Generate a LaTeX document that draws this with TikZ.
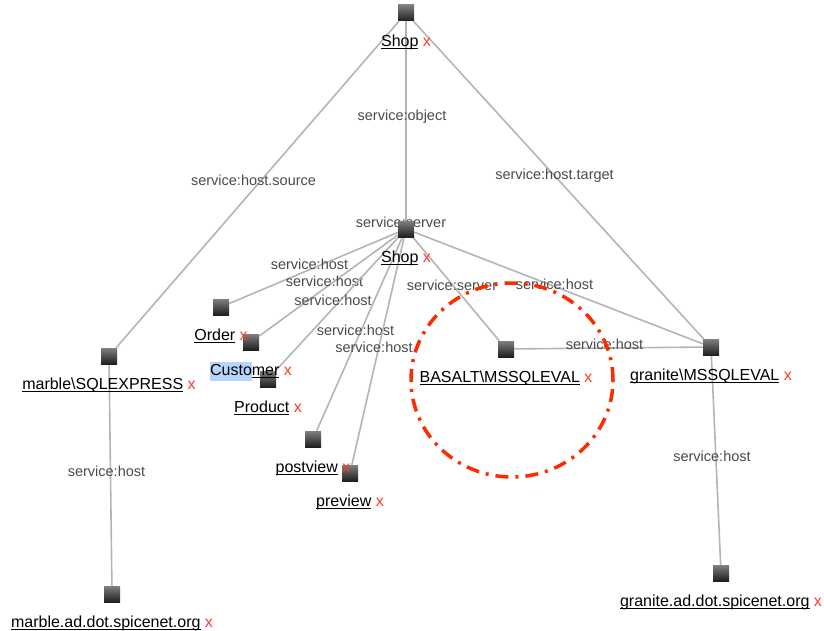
\documentclass[tikz,border=0pt]{standalone}
\usepackage{fontspec}
\setmainfont{Liberation Sans}
\usetikzlibrary{positioning,shapes.geometric,backgrounds}

\definecolor{linkgray}{HTML}{B4B4B4}
\definecolor{textgray}{HTML}{4A4A4A}
\definecolor{delred}{HTML}{FF3B30}
\definecolor{selblue}{HTML}{B5D5FF}
\definecolor{markred}{HTML}{FF2A00}
\setlength{\fboxsep}{0pt}

\newcommand{\ulname}[1]{\setbox0\hbox{#1}\rlap{\rule[-2.8pt]{\wd0}{1.3pt}}\box0}
\newcommand{\entity}[1]{\strut\ulname{#1}~\textcolor{delred}{x}}

\begin{document}
\begin{tikzpicture}[
    x=1pt, y=-1pt,
    item/.style={
        rectangle,
        minimum size=16pt,
        inner sep=0pt,
        top color=black!50,
        bottom color=black!88
    },
    itemname/.style={
        inner sep=0pt,
        font=\fontsize{16}{19.2}\selectfont
    },
    link/.style={
        draw=linkgray,
        line width=1.6pt
    },
    linklabel/.style={
        text=textgray,
        inner sep=0pt,
        font=\fontsize{14.5}{16}\selectfont,
        xshift=-4pt,
        yshift=4pt
    },
    highlight/.style={
        ellipse,
        draw=markred,
        line width=3.5pt,
        dash pattern=on 13pt off 7pt on 3pt off 7pt,
        minimum width=202pt,
        minimum height=194pt
    }
]
\useasboundingbox (0,0) rectangle (824,631);

% Objects
\node[item] (shop_top) at (406,13) {};
\node[item] (shop_mid) at (406,229) {};
\node[item] (order) at (221,307) {};
\node[item] (customer) at (251,342) {};
\node[item] (product) at (268,379) {};
\node[item] (postview) at (313,439) {};
\node[item] (preview) at (350,473) {};
\node[item] (basalt) at (506,349) {};
\node[item] (granite) at (711,347) {};
\node[item] (marble) at (109,356) {};
\node[item] (marble_host) at (112,594) {};
\node[item] (granite_host) at (721,573) {};

% Names
\node[itemname, below=11.5pt of shop_top] (shop_top_name) {\entity{Shop}};
\node[itemname, below=11.5pt of shop_mid] (shop_mid_name) {\entity{Shop}};
\node[itemname, below=11.5pt of order] (order_name) {\entity{Order}};
\node[itemname, below=11.5pt of customer] (customer_name) {\entity{\colorbox{selblue}{\strut Custo}mer}};
\node[itemname, below=11.5pt of product] (product_name) {\entity{Product}};
\node[itemname, below=11.5pt of postview] (postview_name) {\entity{postview}};
\node[itemname, below=11.5pt of preview] (preview_name) {\entity{preview}};
\node[itemname, below=11.5pt of basalt] (basalt_name) {\entity{BASALT\textbackslash MSSQLEVAL}};
\node[itemname, below=11.5pt of granite] (granite_name) {\entity{granite\textbackslash MSSQLEVAL}};
\node[itemname, below=11.5pt of marble] (marble_name) {\entity{marble\textbackslash SQLEXPRESS}};
\node[itemname, below=11.5pt of marble_host] (marble_host_name) {\entity{marble.ad.dot.spicenet.org}};
\node[itemname, below=11.5pt of granite_host] (granite_host_name) {\entity{granite.ad.dot.spicenet.org}};

% Relations
\begin{scope}[on background layer]
\draw[link] (shop_top) -- node[linklabel] {service:object} (shop_mid);
\draw[link] (shop_top) -- node[linklabel] {service:host.source} (marble);
\draw[link] (shop_top) -- node[linklabel] {service:host.target} (granite);
\node[linklabel, xshift=-1pt, yshift=3pt] (server_name) at (shop_mid) {service:server};

\draw[link] (shop_mid) -- node[linklabel] {service:host} (order);
\draw[link] (shop_mid) -- node[linklabel] {service:host} (customer);
\draw[link] (shop_mid) -- node[linklabel] {service:host} (product);
\draw[link] (shop_mid) -- node[linklabel] {service:host} (postview);
\draw[link] (shop_mid) -- node[linklabel] {service:host} (preview);
\draw[link] (shop_mid) -- node[linklabel] {service:server} (basalt);
\draw[link] (shop_mid) -- node[linklabel] {service:host} (granite);

\draw[link] (basalt) -- node[linklabel] {service:host} (granite);
\draw[link] (granite) -- node[linklabel] {service:host} (granite_host);
\draw[link] (marble) -- node[linklabel] {service:host} (marble_host);
\end{scope}

% Marked region
\node[highlight] (focus) at (512,380) {};

\end{tikzpicture}
\end{document}
